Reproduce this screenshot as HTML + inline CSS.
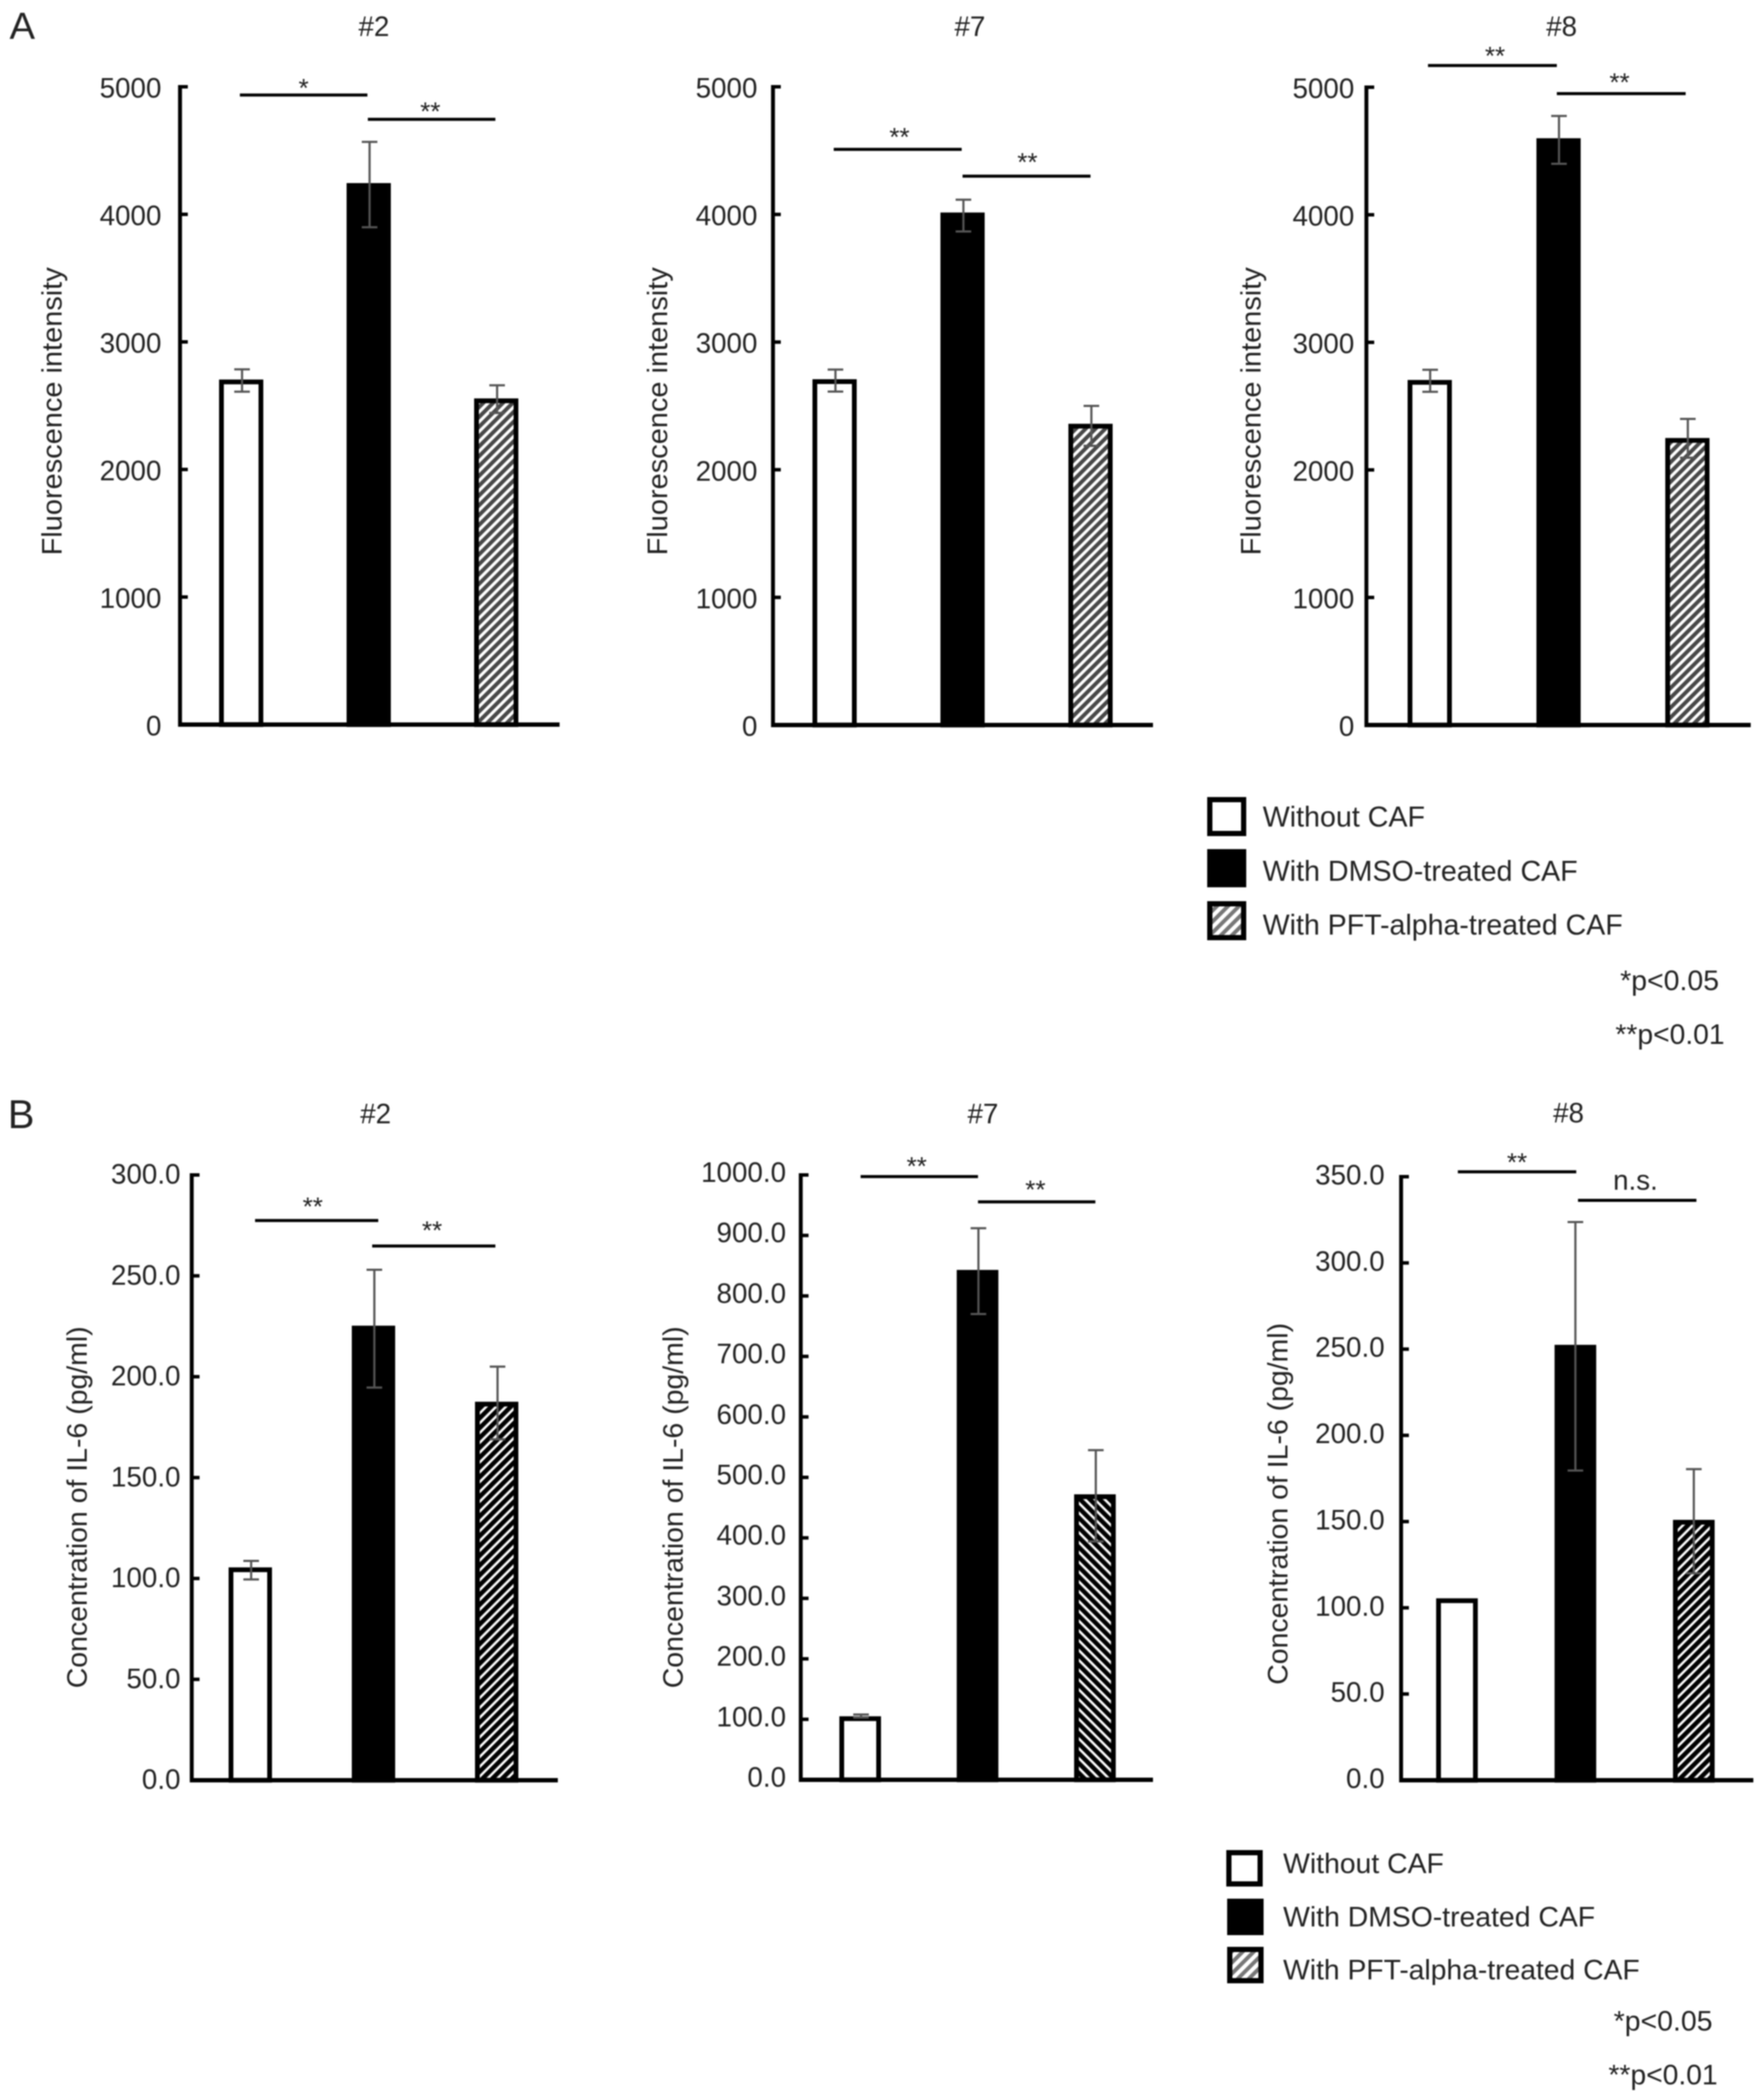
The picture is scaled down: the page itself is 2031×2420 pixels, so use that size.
<!DOCTYPE html>
<html lang="en">
<head>
<meta charset="utf-8">
<title>Fluorescence intensity and IL-6 concentration bar charts</title>
<style>
html,body{margin:0;padding:0;background:#fff;width:2031px;height:2420px;overflow:hidden}
svg{display:block;filter:blur(0.7px)}
text{font-family:"Liberation Sans",Arial,sans-serif;fill:#222}
</style>
</head>
<body>
<svg id="figure" xmlns="http://www.w3.org/2000/svg" width="2031" height="2420" viewBox="0 0 2031 2420">
  <defs>
    <pattern id="hatch-a" patternUnits="userSpaceOnUse" width="8" height="8" patternTransform="rotate(45)"><rect width="8" height="8" fill="#fff"/><rect width="4.5" height="8" fill="#484848"/></pattern>
    <pattern id="hatch-b" patternUnits="userSpaceOnUse" width="8" height="8" patternTransform="rotate(45)"><rect width="8" height="8" fill="#fff"/><rect width="5.2" height="8" fill="#000"/></pattern>
    <pattern id="hatch-b-rev" patternUnits="userSpaceOnUse" width="8" height="8" patternTransform="rotate(-45)"><rect width="8" height="8" fill="#fff"/><rect width="5.2" height="8" fill="#000"/></pattern>
    <pattern id="hatch-legend" patternUnits="userSpaceOnUse" width="9" height="9" patternTransform="rotate(45)"><rect width="9" height="9" fill="#fff"/><rect width="4.5" height="9" fill="#777"/></pattern>
  </defs>

  <text x="11" y="45" font-size="44">A</text>
  <text x="9" y="1300" font-size="46">B</text>

  <g id="charts"></g>

  <g>
    <g>
      <rect x="1394.5" y="921.5" width="39" height="39" fill="#fff" stroke="#000" stroke-width="6"/>
      <text x="1455.5" y="952.5" font-size="33">Without CAF</text>
    </g>
    <g>
      <rect x="1391.5" y="978.5" width="45" height="44" fill="#000"/>
      <text x="1455.5" y="1015" font-size="33">With DMSO-treated CAF</text>
    </g>
    <g>
      <rect x="1394.5" y="1041.5" width="39" height="39" fill="url(#hatch-legend)" stroke="#000" stroke-width="6"/>
      <text x="1455.5" y="1077" font-size="32.9">With PFT-alpha-treated CAF</text>
    </g>
    <text x="1867.5" y="1141" font-size="32.8">*p&lt;0.05</text>
    <text x="1862" y="1203" font-size="32.6">**p&lt;0.01</text>
  </g>

  <g>
    <g>
      <rect x="1416.5" y="2135" width="36" height="36" fill="#fff" stroke="#000" stroke-width="6"/>
      <text x="1479" y="2158.5" font-size="32.7">Without CAF</text>
    </g>
    <g>
      <rect x="1414.5" y="2197" width="42" height="42" fill="#000" transform="translate(0 -9)"/>
      <text x="1479" y="2220" font-size="32.7">With DMSO-treated CAF</text>
    </g>
    <g>
      <rect x="1417.5" y="2246.5" width="36" height="36" fill="url(#hatch-legend)" stroke="#000" stroke-width="6"/>
      <text x="1479" y="2281" font-size="32.6">With PFT-alpha-treated CAF</text>
    </g>
    <text x="1860" y="2340" font-size="32.8">*p&lt;0.05</text>
    <text x="1854" y="2402" font-size="32.6">**p&lt;0.01</text>
  </g>
</svg>

<script>
// ---- Data ----
const categories = ['without-caf', 'dmso', 'pft-alpha'];

const fluorescenceTicks = [0, 1000, 2000, 3000, 4000, 5000];
const fluorescenceTickLabels = ['0', '1000', '2000', '3000', '4000', '5000'];

const il6Ticks300 = [0, 50, 100, 150, 200, 250, 300];
const il6TickLabels300 = ['0.0', '50.0', '100.0', '150.0', '200.0', '250.0', '300.0'];
const il6Ticks1000 = [0, 100, 200, 300, 400, 500, 600, 700, 800, 900, 1000];
const il6TickLabels1000 = ['0.0', '100.0', '200.0', '300.0', '400.0', '500.0', '600.0', '700.0', '800.0', '900.0', '1000.0'];
const il6Ticks350 = [0, 50, 100, 150, 200, 250, 300, 350];
const il6TickLabels350 = ['0.0', '50.0', '100.0', '150.0', '200.0', '250.0', '300.0', '350.0'];

const a2Means = [2705, 4245, 2557];
const a2ErrHigh = [2785, 4568, 2660];
const a2ErrLow = [2610, 3899, 2443];
const a2BracketLevels = [4935, 4745];
const a2BracketLabels = ['*', '**'];

const a7Means = [2709, 4015, 2360];
const a7ErrHigh = [2785, 4115, 2500];
const a7ErrLow = [2612, 3866, 2187];
const a7BracketLevels = [4510, 4300];
const a7BracketLabels = ['**', '**'];

const a8Means = [2705, 4600, 2250];
const a8ErrHigh = [2785, 4775, 2400];
const a8ErrLow = [2612, 4400, 2095];
const a8BracketLevels = [5170, 4950];
const a8BracketLabels = ['**', '**'];

const b2Means = [105.5, 225.3, 187.6];
const b2ErrHigh = [108.7, 253, 205];
const b2ErrLow = [99.5, 194.6, 169];
const b2BracketLevels = [277.4, 264.8];
const b2BracketLabels = ['**', '**'];

const b7Means = [105, 843, 472];
const b7ErrHigh = [108, 912, 545];
const b7ErrLow = [103, 770, 394];
const b7BracketLevels = [997.3, 955.5];
const b7BracketLabels = ['**', '**'];

const b8Means = [105.5, 252.5, 151];
const b8ErrHigh = [105.5, 323.7, 180.4];
const b8ErrLow = [105.5, 179.6, 120];
const b8BracketLevels = [352.8, 336.3];
const b8BracketLabels = ['**', 'n.s.'];

// ---- Panel layout (pixel geometry of each axis) ----
const panels = [
  {id:'a-2', title:'#2', titleX:431, titleY:41.5, yLabel:'Fluorescence intensity', yLabelX:71, yLabelY:474, yLabelLen:332,
   axisX:207.5, axisEnd:645, top:100, bottom:835, max:5000, ticks:fluorescenceTicks, tickLabels:fluorescenceTickLabels, labelRight:186, labelDy:12.5,
   first:278, step:147, barW:51, errDx:1, hatch:'hatch-a', shift:[-1.5,-1], gaps:[15,16], starDx:[0,-1.5],
   means:a2Means, hi:a2ErrHigh, lo:a2ErrLow, levels:a2BracketLevels, sig:a2BracketLabels},
  {id:'a-7', title:'#7', titleX:1118, titleY:41.5, yLabel:'Fluorescence intensity', yLabelX:769, yLabelY:474, yLabelLen:332,
   axisX:891, axisEnd:1329, top:100, bottom:835.5, max:5000, ticks:fluorescenceTicks, tickLabels:fluorescenceTickLabels, labelRight:873, labelDy:12.5,
   first:962, step:147.5, barW:51, errDx:1, hatch:'hatch-a', shift:[-1,0], gaps:[21,23], starDx:[2,1],
   means:a7Means, hi:a7ErrHigh, lo:a7ErrLow, levels:a7BracketLevels, sig:a7BracketLabels},
  {id:'a-8', title:'#8', titleX:1800, titleY:41.5, yLabel:'Fluorescence intensity', yLabelX:1453, yLabelY:474, yLabelLen:332,
   axisX:1575, axisEnd:2018, top:100.5, bottom:835.5, max:5000, ticks:fluorescenceTicks, tickLabels:fluorescenceTickLabels, labelRight:1561, labelDy:12.5,
   first:1648, step:148.5, barW:51, errDx:0.5, hatch:'hatch-a', shift:[-2,-2], gaps:[18,20], starDx:[3,-2],
   means:a8Means, hi:a8ErrHigh, lo:a8ErrLow, levels:a8BracketLevels, sig:a8BracketLabels},
  {id:'b-2', title:'#2', titleX:433, titleY:1294.5, yLabel:'Concentration of IL-6 (pg/ml)', yLabelX:100, yLabelY:1737, yLabelLen:417,
   axisX:221, axisEnd:643, top:1354, bottom:2051.5, max:300, ticks:il6Ticks300, tickLabels:il6TickLabels300, labelRight:208, labelDy:10,
   first:288.5, step:142, barW:50, errDx:1, hatch:'hatch-b', shift:[5.5,-1.5], gaps:[23,25], starDx:[-4.5,-2],
   means:b2Means, hi:b2ErrHigh, lo:b2ErrLow, levels:b2BracketLevels, sig:b2BracketLabels},
  {id:'b-7', title:'#7', titleX:1133, titleY:1294.5, yLabel:'Concentration of IL-6 (pg/ml)', yLabelX:787, yLabelY:1737, yLabelLen:417,
   axisX:923, axisEnd:1329, top:1354, bottom:2051, max:1000, ticks:il6Ticks1000, tickLabels:il6TickLabels1000, labelRight:906, labelDy:8,
   first:991.5, step:135.3, barW:48, errDx:1, hatch:'hatch-b-rev', shift:[0.5,0.5], gaps:[19,21], starDx:[-3,-1.5],
   means:b7Means, hi:b7ErrHigh, lo:b7ErrLow, levels:b7BracketLevels, sig:b7BracketLabels},
  {id:'b-8', title:'#8', titleX:1808, titleY:1293.5, yLabel:'Concentration of IL-6 (pg/ml)', yLabelX:1484, yLabelY:1733, yLabelLen:417,
   axisX:1615, axisEnd:2021, top:1356, bottom:2051.5, max:350, ticks:il6Ticks350, tickLabels:il6TickLabels350, labelRight:1596, labelDy:9,
   first:1679.4, step:136.5, barW:48, errDx:0, hatch:'hatch-b', shift:[1,3], gaps:[18,12], starDx:[0,-2],
   means:b8Means, hi:b8ErrHigh, lo:b8ErrLow, levels:b8BracketLevels, sig:b8BracketLabels}
];

// ---- Drawing ----
const SVGNS = 'http://www.w3.org/2000/svg';
const root = document.getElementById('charts');

function el(tag, parent) {
  const node = document.createElementNS(SVGNS, tag);
  parent.appendChild(node);
  return node;
}
function line(parent, x1, y1, x2, y2, color, width) {
  const l = el('line', parent);
  l.setAttribute('x1', x1);
  l.setAttribute('y1', y1);
  l.setAttribute('x2', x2);
  l.setAttribute('y2', y2);
  l.setAttribute('stroke', color);
  l.setAttribute('stroke-width', width);
  return l;
}

panels.forEach(function (p) {
  const yScale = function (v) { return p.bottom - (v / p.max) * (p.bottom - p.top); };
  const xScale = function (i) { return p.first + i * p.step; };

  const g = el('g', root);
  
  

  const title = el('text', g);
  
  
  title.setAttribute('x', p.titleX);
  title.setAttribute('y', p.titleY);
  title.setAttribute('font-size', 32);
  title.setAttribute('text-anchor', 'middle');
  title.textContent = p.title;

  const yTitle = el('text', g);
  
  
  yTitle.setAttribute('transform', 'translate(' + p.yLabelX + ' ' + p.yLabelY + ') rotate(-90)');
  yTitle.setAttribute('font-size', 32);
  yTitle.setAttribute('text-anchor', 'middle');
  yTitle.setAttribute('textLength', p.yLabelLen);
  yTitle.setAttribute('lengthAdjust', 'spacingAndGlyphs');
  yTitle.textContent = p.yLabel;

  // bars
  categories.forEach(function (cat, i) {
    const sw = 5.5;
    const cx = xScale(i);
    const bar = el('rect', g);
    
    
    bar.setAttribute('x', cx - p.barW / 2 + sw / 2);
    bar.setAttribute('y', yScale(p.means[i]) + sw / 2);
    bar.setAttribute('width', p.barW - sw);
    bar.setAttribute('height', Math.max(0, yScale(0) - yScale(p.means[i]) - sw / 2));
    bar.setAttribute('stroke', '#000');
    bar.setAttribute('stroke-width', sw);
    bar.setAttribute('fill', i === 0 ? '#fff' : i === 1 ? '#000' : 'url(#' + p.hatch + ')');
  });

  // error bars
  categories.forEach(function (cat, i) {
    if (p.hi[i] === p.lo[i]) return;
    const ex = xScale(i) + p.errDx;
    const color = '#555';
    const eg = el('g', g);
    
    
    line(eg, ex, yScale(p.hi[i]), ex, yScale(p.lo[i]), color, 2.5);
    line(eg, ex - 9, yScale(p.hi[i]), ex + 9, yScale(p.hi[i]), color, 2.5);
    line(eg, ex - 9, yScale(p.lo[i]), ex + 9, yScale(p.lo[i]), color, 2.5);
  });

  // axes
  const yAxis = line(g, p.axisX, p.top - 2, p.axisX, p.bottom + 2.5, '#000', 4.5);
  
  
  const xAxis = line(g, p.axisX - 2, p.bottom, p.axisEnd, p.bottom, '#000', 5);
  
  

  p.ticks.forEach(function (t, i) {
    const y = yScale(t);
    const tick = line(g, p.axisX, y, p.axisX + 9, y, '#000', 4);
    
    
    const label = el('text', g);
    
    
    label.setAttribute('x', p.labelRight);
    label.setAttribute('y', y + p.labelDy);
    label.setAttribute('font-size', 32);
    label.setAttribute('text-anchor', 'end');
    label.textContent = p.tickLabels[i];
  });

  // significance brackets
  p.levels.forEach(function (level, i) {
    const x1 = xScale(i) + p.shift[i];
    const x2 = xScale(i + 1) + p.shift[i];
    const y = yScale(level);
    const b = line(g, x1, y, x2, y, '#000', 3.5);
    
    
    const s = el('text', g);
    
    
    s.setAttribute('x', (x1 + x2) / 2 + p.starDx[i]);
    s.setAttribute('text-anchor', 'middle');
    if (p.sig[i] === 'n.s.') {
      s.setAttribute('y', y - p.gaps[i]);
      s.setAttribute('font-size', 32);
    } else {
      s.setAttribute('y', y - p.gaps[i] + 17);
      s.setAttribute('font-size', 30);
    }
    s.textContent = p.sig[i];
  });
});
</script>
</body>
</html>
